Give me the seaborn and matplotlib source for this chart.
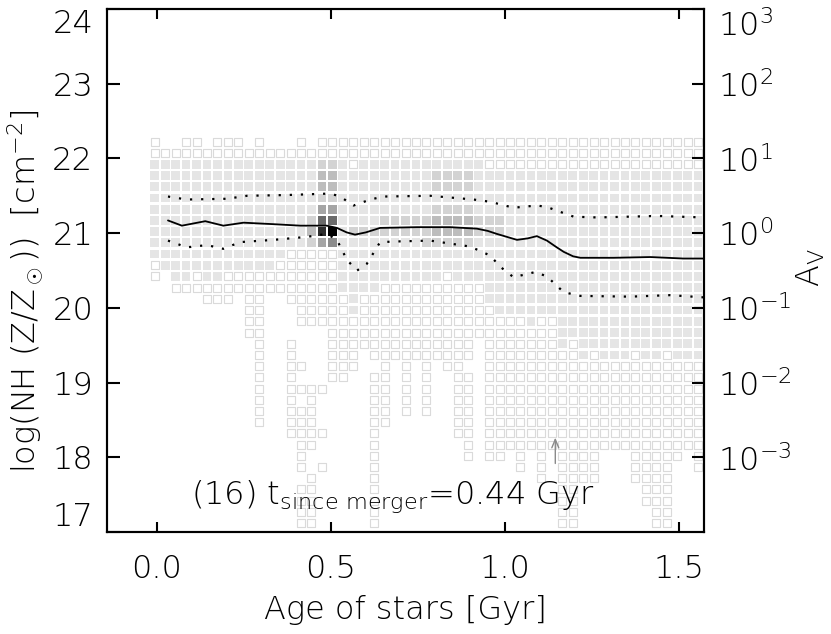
import numpy as np
import pandas as pd
import matplotlib
matplotlib.use('Agg')
import matplotlib.pyplot as plt
from matplotlib.ticker import NullLocator
import seaborn as sns

# centres of the histogram bins
age_centres = -0.006 + 0.03 * np.arange(53)
nh_centres = 17.12 + 0.15 * np.arange(35)

# grey level of every cell, top row first
# ' ' empty, 'o' single star (outline only), '1'..'9' light -> black
cell_rows = [
    "o  oo ooo " + "o   o oooo" + "oooooooooo" + "oooooooooo" + "oooooooooo" + "ooo",
    "oooooooooo" + "oooooooooo" + "oooooooooo" + "oooooooooo" + "oooooooooo" + "ooo",
    "1111111111" + "111111221o" + "1111111111" + "11oooooooo" + "oooooooooo" + "ooo",
    "1111111111" + "1111113311" + "1111111222" + "2111111111" + "1111111111" + "111",
    "1111111111" + "1111113311" + "1111111222" + "2111111111" + "1111111111" + "111",
    "1111111111" + "1111112211" + "1111111111" + "1111111111" + "1111111111" + "111",
    "1111111111" + "1111114411" + "1111111222" + "2111111111" + "1111111111" + "111",
    "1111111111" + "1111126611" + "1122222333" + "3222111111" + "1111111111" + "111",
    "1111111111" + "1111138912" + "2222222333" + "3222111111" + "1111111111" + "111",
    "1111111111" + "1111124511" + "1111112222" + "2111111111" + "1111111111" + "111",
    "1111111111" + "111ooooo11" + "1111111111" + "1111111111" + "1111111111" + "111",
    "o111111111" + "11oooooo11" + "1111111111" + "1111111111" + "1111111111" + "111",
    "o 11o11ooo" + "oooooooo11" + "11111111o1" + "1111111111" + "1111111111" + "111",
    "  oooooooo" + "oooooooo11" + "11oooooooo" + "oo11111111" + "1111111111" + "111",
    "     ooo o" + "o  oooooo1" + "oooooooooo" + "oo11111111" + "1111111111" + "111",
    "         o" + "o   ooooo1" + "oooooooooo" + "ooo1111111" + "1111111111" + "111",
    "         o" + "o   oooooo" + "oooooooooo" + "oooooo1oo1" + "1111111111" + "111",
    "         o" + "o      ooo" + "oooooooooo" + "ooooooooo1" + "1111111111" + "111",
    "          " + "o  o   ooo" + "oooooooooo" + "o ooooooo1" + "o111111111" + "111",
    "          " + "o  o   ooo" + " ooooooooo" + "o oooooooo" + "o1o111o11o" + "111",
    "          " + "o  oo  ooo" + "  o o o oo" + "  oooooooo" + "oooooooooo" + "ooo",
    "          " + "o  o   oo " + " oo o o  o" + "o oooooooo" + "oooooooooo" + "ooo",
    "          " + "o  oooo   " + " oo o o  o" + "o oooooooo" + "oooooooooo" + "ooo",
    "          " + "o  o o    " + " oo o o  o" + "o oooooooo" + "oooooooooo" + "ooo",
    "          " + "o  ooo    " + " oo o o  o" + "o oooooooo" + "oooooooooo" + "ooo",
    "          " + "o  ooo    " + " oo      o" + "o oooooooo" + "oooooooooo" + "ooo",
    "          " + "   oooo   " + " o       o" + "o oooooooo" + "oooooooooo" + "ooo",
    "          " + "    oo    " + " o        " + "o oooooooo" + "oooooooooo" + "ooo",
    "          " + "    o     " + " o        " + "o oo o o o" + "ooo   oooo" + "o o",
    "          " + "    o o   " + " o        " + "     o o o" + "ooo   oooo" + "  o",
    "          " + "     o    " + " o        " + "       o o" + "ooo   oooo" + "   ",
    "          " + "    oo    " + " o        " + "         o" + "o      ooo" + "   ",
    "          " + "    oo    " + " o        " + "         o" + "o      ooo" + "   ",
    "          " + "    oo    " + " o        " + "         o" + "o       oo" + "   ",
    "          " + "    oo    " + " o        " + "         o" + "o       oo" + "   ",
]

grey_levels = {'1': '#e5e5e5', '2': '#d3d3d3', '3': '#bdbdbd', '4': '#a5a5a5',
               '5': '#8c8c8c', '6': '#6a6a6a', '7': '#505050', '8': '#2e2e2e',
               '9': '#000000'}

# median and 16/84 percentile curves
med_age = [0.032, 0.072, 0.139, 0.191, 0.249, 0.335, 0.412, 0.488, 0.517, 0.545,
           0.569, 0.600, 0.641, 0.747, 0.842, 0.919, 0.950, 0.976, 1.034, 1.065,
           1.091, 1.120, 1.145, 1.168, 1.195, 1.216, 1.311, 1.417, 1.512, 1.571]
med_nh = [21.17, 21.10, 21.16, 21.10, 21.14, 21.12, 21.10, 21.10, 21.07, 21.01,
          20.98, 21.01, 21.07, 21.08, 21.08, 21.06, 21.03, 20.99, 20.91, 20.93,
          20.96, 20.90, 20.82, 20.75, 20.69, 20.67, 20.67, 20.68, 20.66, 20.66]
hi_age = [0.032, 0.086, 0.201, 0.259, 0.373, 0.498, 0.526, 0.565, 0.613, 0.651,
          0.785, 0.909, 0.957, 1.024, 1.091, 1.120, 1.149, 1.197, 1.264, 1.436, 1.571]
hi_nh = [21.49, 21.45, 21.46, 21.50, 21.51, 21.53, 21.49, 21.37, 21.45, 21.49,
         21.50, 21.45, 21.42, 21.34, 21.37, 21.35, 21.30, 21.22, 21.21, 21.23, 21.21]
lo_age = [0.032, 0.086, 0.144, 0.191, 0.239, 0.335, 0.431, 0.488, 0.517, 0.546,
          0.575, 0.603, 0.641, 0.699, 0.785, 0.900, 0.957, 0.986, 1.024, 1.087,
          1.120, 1.168, 1.216, 1.359, 1.474, 1.571]
lo_nh = [20.90, 20.81, 20.84, 20.79, 20.88, 20.91, 20.95, 20.99, 20.91, 20.64,
         20.50, 20.59, 20.88, 20.89, 20.90, 20.82, 20.70, 20.55, 20.41, 20.48,
         20.42, 20.21, 20.16, 20.15, 20.17, 20.14]

merger_age = 1.144
arrow_nh = [17.88, 18.30]

x_ticks = [0.0, 0.5, 1.0, 1.5]
y_ticks = [17, 18, 19, 20, 21, 22, 23, 24]
av_ticks = [1e-3, 1e-2, 1e-1, 1e0, 1e1, 1e2, 1e3]
av_labels = ['10$^{-3}$', '10$^{-2}$', '10$^{-1}$', '10$^{0}$', '10$^{1}$', '10$^{2}$', '10$^{3}$']

# flatten the cell strings into a table
recs = []
for r, row in enumerate(cell_rows):
    j = len(cell_rows) - 1 - r
    for i, ch in enumerate(row):
        if ch != ' ':
            recs.append({'age': age_centres[i], 'nh': nh_centres[j], 'level': ch})
cells = pd.DataFrame(recs)
hollow = cells[cells.level == 'o']
filled = cells[cells.level != 'o']

sns.set_style('ticks', {'axes.edgecolor': 'black', 'xtick.color': 'black',
                        'ytick.color': 'black', 'text.color': 'black',
                        'axes.labelcolor': 'black'})
plt.rcParams['font.family'] = ['DejaVu Sans']
plt.rcParams['font.weight'] = 'light'
plt.rcParams['axes.labelweight'] = 'light'
plt.rcParams['mathtext.fontset'] = 'custom'
plt.rcParams['mathtext.rm'] = 'DejaVu Sans:light'
plt.rcParams['mathtext.it'] = 'DejaVu Sans:light'

fig = plt.figure(figsize=(8.31, 6.34), dpi=100)
ax = fig.add_axes([0.1288, 0.1609, 0.7184, 0.8249])

sns.scatterplot(data=hollow, x='age', y='nh', marker='s', s=30, color='white',
                edgecolor='#dadada', linewidth=0.8, legend=False, ax=ax, zorder=1)
sns.scatterplot(data=filled, x='age', y='nh', hue='level', palette=grey_levels,
                marker='s', s=40, linewidth=0, legend=False, ax=ax, zorder=2)

sns.lineplot(x=med_age, y=med_nh, sort=False, estimator=None, color='black',
             linewidth=1.3, ax=ax, zorder=3)
for xs, ys in [(hi_age, hi_nh), (lo_age, lo_nh)]:
    sns.lineplot(x=xs, y=ys, sort=False, estimator=None, color='black',
                 linewidth=1.6, ax=ax, zorder=3)
    ax.lines[-1].set_linestyle((0, (1, 4)))

ax.annotate('', xy=(merger_age, arrow_nh[1]), xytext=(merger_age, arrow_nh[0]),
            arrowprops=dict(arrowstyle='->,head_width=0.25,head_length=0.6',
                            color='#8a8a8a', lw=1))

ax.text(0.677, 17.37, r'(16) t$_{\rm since\ merger}$=0.44 Gyr', ha='center',
        va='baseline', fontsize=23)

ax.set_xlim(-0.143, 1.571)
ax.set_ylim(17, 24)
ax.set_xticks(x_ticks, ['%.1f' % v for v in x_ticks])
ax.set_yticks(y_ticks, [str(v) for v in y_ticks])
ax.minorticks_off()
ax.tick_params(direction='in', top=True, right=False, width=1.5, labelsize=23)
ax.tick_params(axis='y', length=9, pad=10)
ax.tick_params(axis='x', length=7, pad=16)
ax.set_xlabel('Age of stars [Gyr]', fontsize=23, labelpad=8)
ax.set_ylabel(r'log(NH (Z/Z$_\odot$))  [cm$^{-2}$]', fontsize=23)
ax.yaxis.set_label_coords(-0.104, 0.461)

ax2 = ax.twinx()
ax2.set_yscale('log')
ax2.set_ylim(1e-4, 1e3)
ax2.set_yticks(av_ticks, av_labels)
ax2.yaxis.set_minor_locator(NullLocator())
ax2.tick_params(direction='in', length=9, width=1.5, pad=10, labelsize=23)
ax2.set_ylabel(r'A$_{\rm V}$', fontsize=23)
ax2.yaxis.set_label_coords(1.152, 0.505)

# edge labels sit inside the frame, as in the original
ylabs = ax.get_yticklabels()
ylabs[0].set_va('bottom')
ylabs[-1].set_va('top')
ax2.get_yticklabels()[-1].set_va('top')

for a in (ax, ax2):
    for sp in a.spines.values():
        sp.set_linewidth(1.5)

fig.savefig('out.png', dpi=100)
